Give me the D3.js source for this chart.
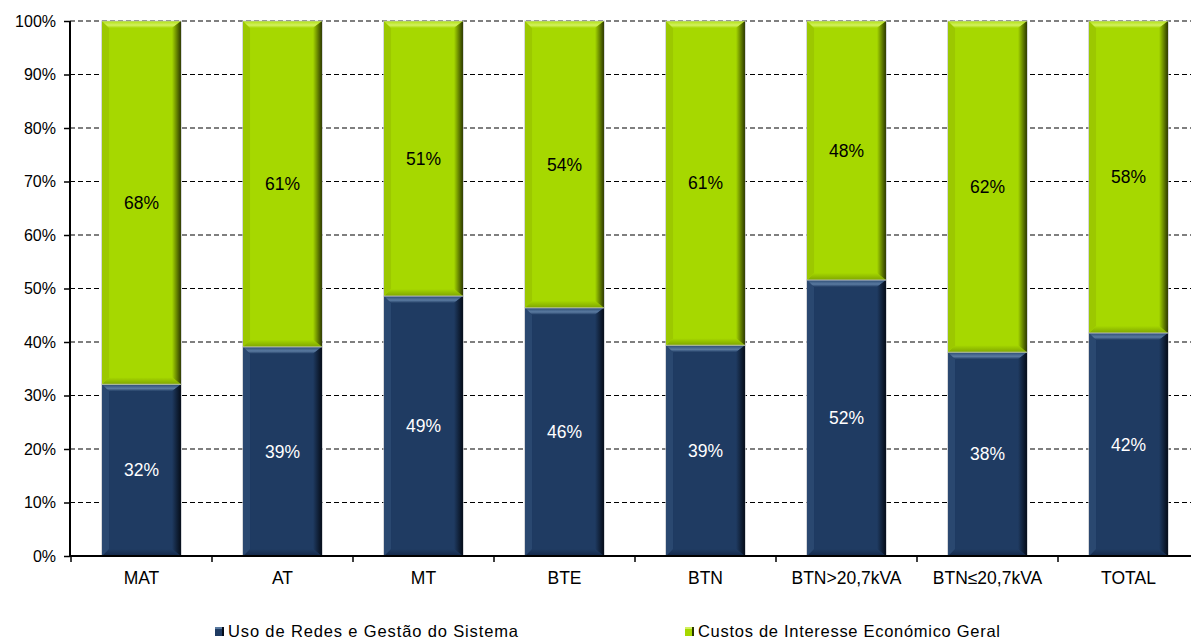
<!DOCTYPE html>
<html><head><meta charset="utf-8">
<script src="https://cdn.jsdelivr.net/npm/d3@7/dist/d3.min.js"></script>
<style>
body{margin:0;background:#fff;}
text{font-family:"Liberation Sans",Arial,sans-serif;}
</style></head>
<body><svg id="c" width="1191" height="641"></svg>
<script>
const categories = ["MAT","AT","MT","BTE","BTN","BTN>20,7kVA","BTN≤20,7kVA","TOTAL"];
const redes = [32.1, 39.1, 48.6, 46.4, 39.4, 51.6, 38.1, 41.7];
const cieg  = [67.9, 60.9, 51.4, 53.6, 60.6, 48.4, 61.9, 58.3];
const yTicks = [0,10,20,30,40,50,60,70,80,90,100];
const seriesNames = ["Uso de Redes e Gestão do Sistema","Custos de Interesse Económico Geral"];

const svg = d3.select("#c");
const x = d3.scaleBand().domain(categories).range([71, 1199]).paddingInner(0.44).paddingOuter(0.22);
const y = d3.scaleLinear().domain([0,100]).range([556, 21]);

const styles = [
  {base:"#1f3b62", top:"#5a7aa0", topEnd:"#2a4a72", right:"#050c18", bottom:"#14294a", left:"#2a4870", text:"#fff", id:"n"},
  {base:"#a6d800", top:"#d2f060", topEnd:"#b0e010", right:"#2c3800", bottom:"#7fa600", left:"#9cc800", text:"#000", id:"g"}
];
const defs = svg.append("defs");
styles.forEach(s=>{
  const gt = defs.append("linearGradient").attr("id","t"+s.id).attr("x1",0).attr("y1",0).attr("x2",0).attr("y2",1);
  gt.append("stop").attr("offset","0%").attr("stop-color",s.topEnd);
  gt.append("stop").attr("offset","60%").attr("stop-color",s.top);
  gt.append("stop").attr("offset","100%").attr("stop-color",s.base);
  const gr = defs.append("linearGradient").attr("id","r"+s.id).attr("x1",0).attr("y1",0).attr("x2",1).attr("y2",0);
  gr.append("stop").attr("offset","0%").attr("stop-color",s.base);
  gr.append("stop").attr("offset","100%").attr("stop-color",s.right);
  const gb = defs.append("linearGradient").attr("id","b"+s.id).attr("x1",0).attr("y1",0).attr("x2",0).attr("y2",1);
  gb.append("stop").attr("offset","0%").attr("stop-color",s.base);
  gb.append("stop").attr("offset","100%").attr("stop-color",s.bottom);
});

// gridlines
svg.append("g").selectAll("line").data(yTicks.filter(d=>d>0)).join("line")
  .attr("x1",70).attr("x2",1191).attr("y1",d=>y(d)).attr("y2",d=>y(d))
  .attr("stroke","#000").attr("stroke-width",1.2).attr("stroke-dasharray","5,3");

// bars
const bw = x.bandwidth();
const stacks = [redes, cieg];
categories.forEach((c,i)=>{
  let acc = 0;
  stacks.forEach((vals,si)=>{
    const v = vals[i];
    const x0 = x(c), y0 = y(acc+v), h = y(acc)-y(acc+v), w = bw;
    const s = styles[si];
    const g = svg.append("g");
    const b = 7, br = 9;
    g.append("rect").attr("x",x0).attr("y",y0).attr("width",w).attr("height",h).attr("fill",s.base);
    const P = pts => pts.map(p=>p.join(",")).join(" ");
    g.append("polygon").attr("points",P([[x0,y0+h],[x0+w,y0+h],[x0+w-br,y0+h-b],[x0+b,y0+h-b]])).attr("fill","url(#b"+s.id+")");
    g.append("polygon").attr("points",P([[x0,y0],[x0+b,y0+b],[x0+b,y0+h-b],[x0,y0+h]])).attr("fill",s.left);
    g.append("polygon").attr("points",P([[x0,y0],[x0+w,y0],[x0+w-br,y0+b],[x0+b,y0+b]])).attr("fill","url(#t"+s.id+")");
    g.append("polygon").attr("points",P([[x0+w,y0],[x0+w,y0+h],[x0+w-br,y0+h-b],[x0+w-br,y0+b]])).attr("fill","url(#r"+s.id+")");
    g.append("rect").attr("x",x0-0.5).attr("y",y0).attr("width",w+1).attr("height",h).attr("fill","none").attr("stroke","#c4c8cc").attr("stroke-width",1).attr("stroke-opacity",0.7);
    g.append("text").attr("x",x0+w/2).attr("y",y0+h/2).attr("dy","0.35em").attr("text-anchor","middle")
      .attr("font-size",17.5).attr("fill",s.text).text(Math.round(v)+"%");
    acc += v;
  });
});

// y axis
const yAxis = svg.append("g").attr("transform","translate(70,0)")
  .call(d3.axisLeft(y).tickValues(yTicks).tickFormat(d=>d+"%").tickSize(6).tickPadding(8));
yAxis.attr("font-size",null).attr("font-family",null);
yAxis.select(".domain").attr("stroke","#000").attr("stroke-width",2).attr("d","M0,21V556");
yAxis.selectAll(".tick line").attr("stroke","#000").attr("stroke-width",1.5);
yAxis.selectAll("text").attr("font-size",16).attr("fill","#000");

// x axis
const xg = svg.append("g").attr("transform","translate(0,556)");
xg.append("line").attr("x1",70).attr("x2",1191).attr("y1",0).attr("y2",0).attr("stroke","#000").attr("stroke-width",2);
const step = x.step();
const bounds = categories.map((d,i)=>x(d) - x.step()*x.paddingOuter() + 0*i);
xg.selectAll("line.t").data(categories).join("line").attr("class","t")
  .attr("x1",d=>x(d) - (x.step()-bw)/2).attr("x2",d=>x(d) - (x.step()-bw)/2)
  .attr("y1",0).attr("y2",6).attr("stroke","#000").attr("stroke-width",1.5);
xg.selectAll("text").data(categories).join("text")
  .attr("x",d=>x(d)+bw/2).attr("y",28).attr("text-anchor","middle").attr("font-size",17.5).attr("fill","#000").text(d=>d);

// legend
const legX = [215, 685];
const legW = [290, 302];
seriesNames.forEach((n,i)=>{
  const s = styles[i];
  svg.append("rect").attr("x",legX[i]).attr("y",627).attr("width",9).attr("height",9).attr("fill",s.base);
  svg.append("rect").attr("x",legX[i]).attr("y",627).attr("width",9).attr("height",2).attr("fill",s.top);
  svg.append("rect").attr("x",legX[i]+7).attr("y",627).attr("width",2).attr("height",9).attr("fill",s.right);
  svg.append("text").attr("x",legX[i]+13).attr("y",636.5).attr("font-size",16.5).attr("fill","#000")
    .attr("textLength",legW[i]).attr("lengthAdjust","spacing").text(n);
});
</script></body></html>
